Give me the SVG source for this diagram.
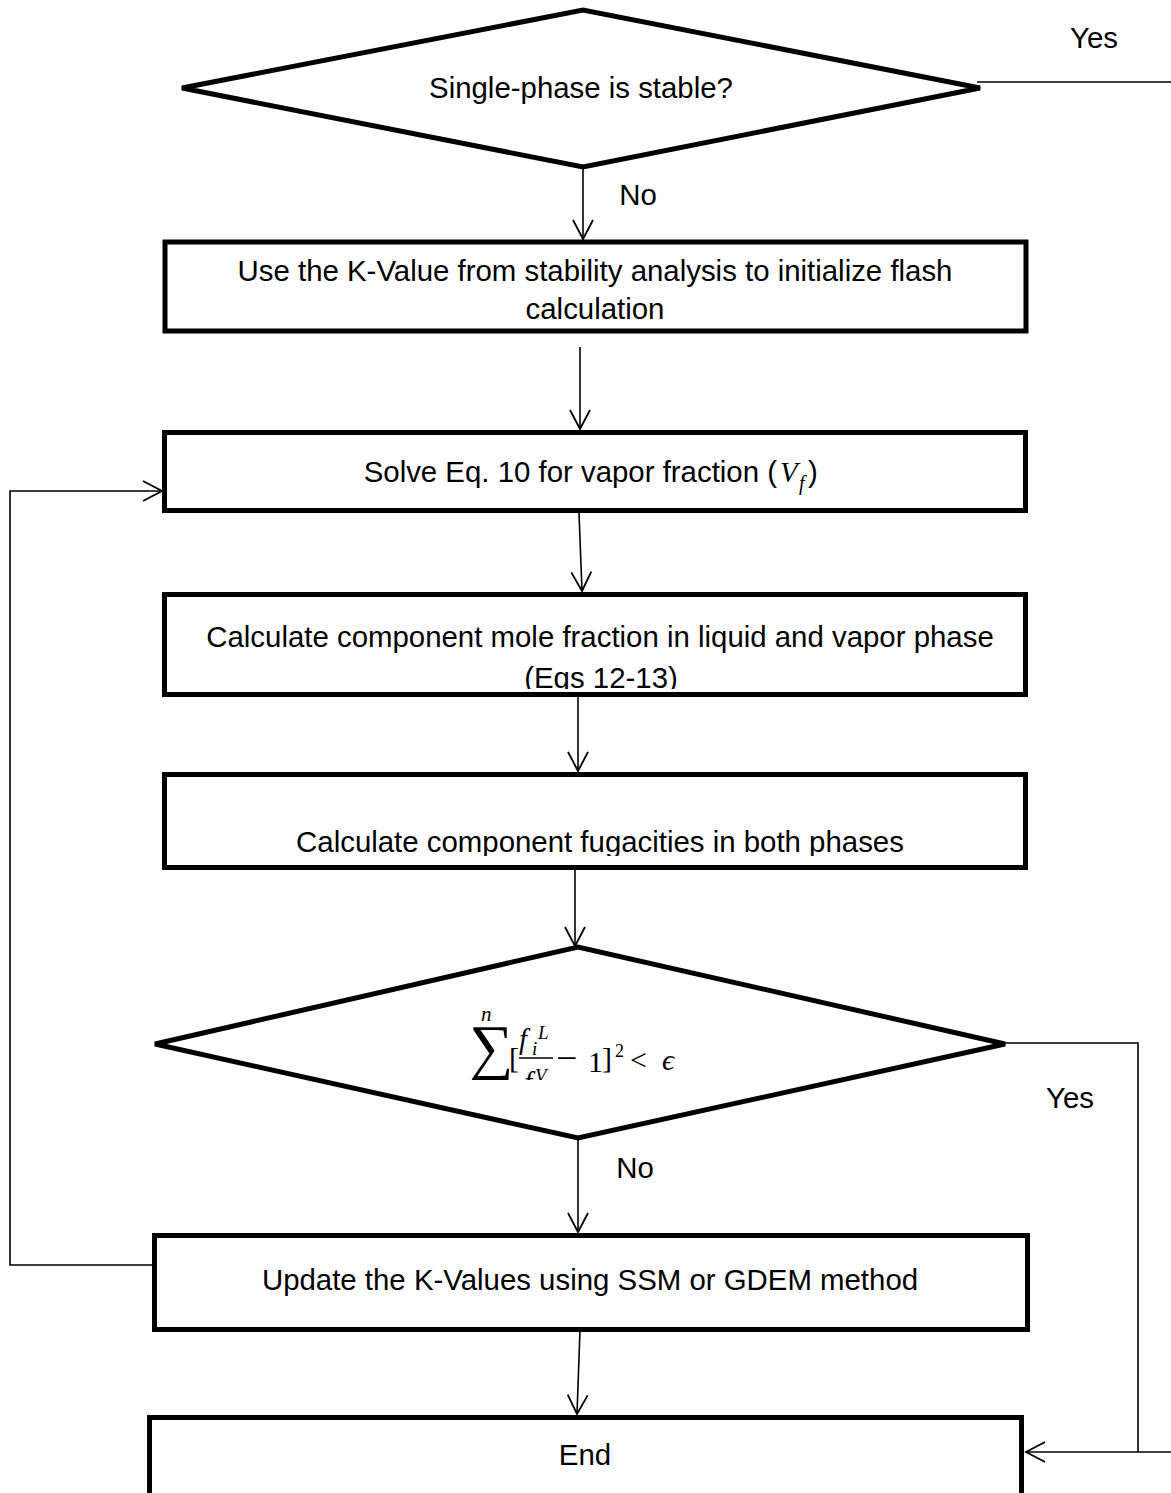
<svg xmlns="http://www.w3.org/2000/svg" width="1171" height="1493" viewBox="0 0 1171 1493">
<defs>
<style>
.frame{fill:none;stroke:#000;stroke-width:5;stroke-linejoin:miter}
.lbl{font-family:"Liberation Sans",Arial,sans-serif;font-size:29.4px;fill:#000;text-anchor:middle}
.conn{fill:none;stroke:#000;stroke-width:1.6}
.math{font-family:"Liberation Serif","DejaVu Serif",serif;fill:#000}
.it{font-style:italic}
</style>
<marker id="arr" markerUnits="userSpaceOnUse" markerWidth="24" markerHeight="24" viewBox="-20 -12 24 24" refX="0" refY="0" orient="auto">
<path d="M-19,-10 L0,0 L-19,10" fill="none" stroke="#000" stroke-width="1.8"/>
</marker>
<clipPath id="fclip"><rect x="400" y="990" width="350" height="90"/></clipPath>
<clipPath id="clip3"><rect x="167" y="597" width="856" height="92"/></clipPath>
<clipPath id="clip4"><rect x="167" y="777" width="856" height="79"/></clipPath>
</defs>
<rect width="1171" height="1493" fill="#fff"/>

<g id="connectors">
<line class="conn" x1="583" y1="167" x2="583" y2="239" marker-end="url(#arr)"/>
<line class="conn" x1="977" y1="82" x2="1171" y2="82"/>
<line class="conn" x1="580" y1="347" x2="580" y2="429" marker-end="url(#arr)"/>
<line class="conn" x1="579" y1="513" x2="582" y2="591" marker-end="url(#arr)"/>
<line class="conn" x1="578" y1="697" x2="578" y2="771" marker-end="url(#arr)"/>
<line class="conn" x1="575" y1="868" x2="575" y2="946" marker-end="url(#arr)"/>
<line class="conn" x1="578" y1="1138" x2="578" y2="1232" marker-end="url(#arr)"/>
<line class="conn" x1="580" y1="1330" x2="577" y2="1414" marker-end="url(#arr)"/>
<polyline class="conn" points="1005,1043 1138,1043 1138,1452"/>
<line class="conn" x1="1171" y1="1452" x2="1026" y2="1452" marker-end="url(#arr)"/>
<polyline class="conn" points="153,1265 10,1265 10,491 162,491" marker-end="url(#arr)"/>
<text class="lbl" x="1094" y="48">Yes</text>
<text class="lbl" x="638" y="205">No</text>
<text class="lbl" x="1070" y="1108">Yes</text>
<text class="lbl" x="635" y="1178">No</text>
</g>

<g id="stable-check">
<polygon class="frame" points="182,88 583,10 980,88 583,167"/>
<text class="lbl" x="581" y="98">Single-phase is stable?</text>
</g>

<g id="init-flash">
<text class="lbl" x="595" y="281">Use the K-Value from stability analysis to initialize flash</text>
<text class="lbl" x="595" y="319">calculation</text>
<rect class="frame" x="165" y="242" width="861" height="89"/>
</g>

<g id="solve-vf">
<text class="lbl" x="777" y="482" style="text-anchor:end">Solve Eq. 10 for vapor fraction (</text>
<text class="math it" x="780" y="482" font-size="29">V</text>
<text class="math it" x="799" y="490" font-size="20">f</text>
<text class="lbl" x="813" y="482">)</text>
<rect class="frame" x="164.5" y="432.5" width="861" height="78"/>
</g>

<g id="mole-fraction">
<g clip-path="url(#clip3)">
<text class="lbl" x="600" y="647">Calculate component mole fraction in liquid and vapor phase</text>
<text class="lbl" x="601" y="688">(Eqs 12-13)</text>
</g>
<rect class="frame" x="164.5" y="594.5" width="861" height="100"/>
</g>

<g id="fugacities">
<g clip-path="url(#clip4)">
<text class="lbl" x="600" y="852">Calculate component fugacities in both phases</text>
</g>
<rect class="frame" x="164.5" y="774.5" width="861" height="93"/>
</g>

<g id="convergence-check">
<polygon class="frame" points="155,1044 578,947 1005,1044 578,1138"/>
<g clip-path="url(#fclip)">
<text class="math" x="469" y="1068" font-size="62">∑</text>
<text class="math it" x="481" y="1021" font-size="21">n</text>
<text class="math it" x="504" y="1093" font-size="18">i</text>
<text class="math" x="509" y="1068" font-size="30">[</text>
<text class="math it" x="519" y="1049" font-size="29">f</text>
<text class="math it" x="532" y="1055" font-size="19">i</text>
<text class="math it" x="538" y="1039" font-size="19">L</text>
<line x1="519" y1="1058" x2="553" y2="1058" stroke="#000" stroke-width="1.4"/>
<text class="math it" x="524" y="1092" font-size="29">f</text>
<text class="math it" x="535" y="1082" font-size="19">V</text>
<text class="math" x="556" y="1071" font-size="38">−</text>
<text class="math" x="588" y="1072" font-size="30">1</text>
<text class="math" x="602" y="1068" font-size="30">]</text>
<text class="math" x="615" y="1057" font-size="18">2</text>
<text class="math" x="630" y="1070" font-size="30">&lt;</text>
<text class="math it" x="662" y="1070" font-size="30">ϵ</text>
</g>
</g>

<g id="update-k">
<text class="lbl" x="590" y="1290">Update the K-Values using SSM or GDEM method</text>
<rect class="frame" x="154.5" y="1235.5" width="873" height="94"/>
</g>

<g id="end">
<text class="lbl" x="585" y="1465">End</text>
<rect class="frame" x="149.5" y="1417.5" width="872" height="90"/>
</g>
</svg>
